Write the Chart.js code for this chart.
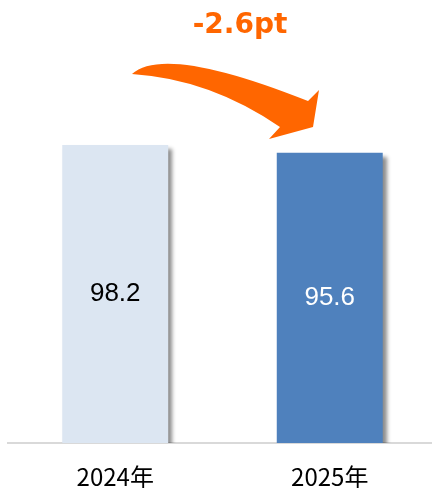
<!DOCTYPE html>
<html>
<head>
<meta charset="utf-8">
<script src="https://cdn.jsdelivr.net/npm/chart.js@4.4.1/dist/chart.umd.min.js"></script>
<style>
  html, body { margin: 0; padding: 0; background: #fff; overflow: hidden; }
  #wrap { width: 437px; height: 488px; }
</style>
</head>
<body>
<div id="wrap"><canvas id="c" width="437" height="488"></canvas></div>
<script>
var years = ["2024年", "2025年"];
var values = [98.2, 95.6];
var barColors = ["#dce6f2", "#4f81bd"];
var labelColors = ["#000000", "#ffffff"];
var diffLabel = "-2.6pt";

// shadow under the bars + value labels in the middle of each bar
var barDeco = {
  id: "barDeco",
  beforeDatasetsDraw: function (chart) {
    var ctx = chart.ctx;
    ctx.save();
    ctx.shadowColor = "rgba(0,0,0,0.45)";
    ctx.shadowOffsetX = 4;
    ctx.shadowOffsetY = 4;
    ctx.shadowBlur = 4;
  },
  afterDatasetsDraw: function (chart) {
    var ctx = chart.ctx;
    ctx.restore();
    var meta = chart.getDatasetMeta(0);
    ctx.save();
    ctx.font = "26px 'Liberation Sans', Arial, sans-serif";
    ctx.textAlign = "center";
    ctx.textBaseline = "middle";
    meta.data.forEach(function (bar, i) {
      ctx.fillStyle = labelColors[i];
      ctx.fillText(values[i].toFixed(1), bar.x, (bar.y + bar.base) / 2);
    });
    ctx.restore();
  }
};

// curved orange arrow and the difference text
var arrowDeco = {
  id: "arrowDeco",
  afterDraw: function (chart) {
    var ctx = chart.ctx;
    ctx.save();
    ctx.fillStyle = "#ff6600";
    ctx.beginPath();
    ctx.moveTo(132, 74);
    ctx.quadraticCurveTo(165, 44, 308, 101);
    ctx.lineTo(319, 90);
    ctx.lineTo(313, 127);
    ctx.lineTo(269, 139);
    ctx.lineTo(280, 127);
    ctx.quadraticCurveTo(210, 79, 132, 74);
    ctx.closePath();
    ctx.fill();
    ctx.font = "bold 28px 'DejaVu Sans', sans-serif";
    ctx.textAlign = "center";
    ctx.textBaseline = "alphabetic";
    ctx.fillText(diffLabel, 240, 33);
    ctx.restore();
  }
};

new Chart(document.getElementById("c"), {
  type: "bar",
  data: {
    labels: years,
    datasets: [{ data: values, backgroundColor: barColors, borderWidth: 0 }]
  },
  options: {
    responsive: false,
    animation: false,
    devicePixelRatio: 1,
    layout: { padding: { top: 18, left: 8, right: 0, bottom: 0 } },
    plugins: { legend: { display: false }, tooltip: { enabled: false } },
    datasets: { bar: { categoryPercentage: 1, barPercentage: 0.494 } },
    scales: {
      y: { display: false, min: 0, max: 140 },
      x: {
        grid: { display: true, color: "rgba(0,0,0,0)", drawTicks: false },
        border: { display: true, color: "#d9d9d9", width: 2 },
        ticks: { color: "#000", padding: 19, font: { size: 24, family: "'Noto Sans CJK JP', sans-serif" } },
        afterFit: function (s) { s.height = 45; }
      }
    }
  },
  plugins: [barDeco, arrowDeco]
});
</script>
</body>
</html>
